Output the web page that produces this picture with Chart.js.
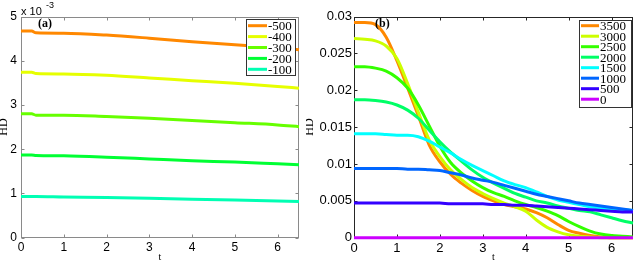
<!DOCTYPE html>
<html>
<head>
<meta charset="utf-8">
<script src="https://cdn.jsdelivr.net/npm/chart.js@4.4.0/dist/chart.umd.min.js"></script>
<style>
  body { margin: 0; background: #fff; }
  #wrap { position: relative; width: 634px; height: 262px; }
  canvas { position: absolute; top: 0; }
</style>
</head>
<body>
<div id="wrap">
  <canvas id="chartA" width="306" height="262" style="left:0px"></canvas>
  <canvas id="chartB" width="328" height="262" style="left:306px"></canvas>
</div>
<script>
// ----- (a) HD, values in units of 10^-3 -----
var tA = [0, 0.25, 0.35, 1, 2, 3, 4, 5, 6, 6.5];
var namesA = ['-500', '-400', '-300', '-200', '-100'];
var hdA_500 = [4.67, 4.67, 4.63, 4.62, 4.58, 4.51, 4.43, 4.36, 4.29, 4.25];
var hdA_400 = [3.74, 3.74, 3.71, 3.70, 3.67, 3.61, 3.55, 3.49, 3.42, 3.38];
var hdA_300 = [2.80, 2.80, 2.77, 2.77, 2.74, 2.70, 2.65, 2.60, 2.55, 2.51];
var hdA_200 = [1.87, 1.87, 1.86, 1.85, 1.82, 1.78, 1.74, 1.71, 1.67, 1.65];
var hdA_100 = [0.93, 0.93, 0.93, 0.92, 0.91, 0.89, 0.87, 0.85, 0.83, 0.82];
var colorsA = ['#ff8800', '#e6ff00', '#66ff00', '#00ff33', '#00ffb3'];
var ticksYA = [0, 1, 2, 3, 4, 5];

// ----- (b) HD -----
var tB = [0, 0.25, 0.5, 0.75, 1, 1.25, 1.5, 1.75, 2, 2.25, 2.5, 2.75, 3, 3.25, 3.5,
          3.75, 4, 4.25, 4.5, 4.75, 5, 5.25, 5.5, 5.75, 6, 6.25, 6.5];
var namesB = ['3500', '3000', '2500', '2000', '1500', '1000', '500', '0'];
var hdB3500 = [0.0292, 0.0292, 0.0289, 0.0272, 0.0240, 0.0203, 0.0165, 0.0126, 0.0103, 0.0086, 0.0074, 0.0064, 0.0056, 0.0050,
               0.0045, 0.0042, 0.0039, 0.0034, 0.0027, 0.0018, 0.0010, 0.0006, 0.0003, 0.0001, 0, 0, 0];
var hdB3000 = [0.0270, 0.0269, 0.0267, 0.0260, 0.0243, 0.0209, 0.0170, 0.0133, 0.0110, 0.0092, 0.0079, 0.0068, 0.0060, 0.0053,
               0.0047, 0.0042, 0.0036, 0.0024, 0.0014, 0.0008, 0.0004, 0.0002, 0.0001, 0, 0, 0, 0];
var hdB2500 = [0.0232, 0.0232, 0.0230, 0.0226, 0.0217, 0.0203, 0.0180, 0.0152, 0.0124, 0.0102, 0.0088, 0.0077, 0.0068, 0.0061,
               0.0056, 0.0050, 0.0045, 0.0041, 0.0036, 0.0030, 0.0022, 0.0015, 0.0009, 0.0005, 0.0003, 0.0002, 0.0001];
var hdB2000 = [0.0187, 0.0187, 0.0186, 0.0184, 0.0180, 0.0173, 0.0162, 0.0146, 0.0130, 0.0116, 0.0104, 0.0092, 0.0082, 0.0074,
               0.0067, 0.0060, 0.0055, 0.0050, 0.0047, 0.0043, 0.0040, 0.0037, 0.0035, 0.0031, 0.0027, 0.0023, 0.0020];
var hdB1500 = [0.0141, 0.0141, 0.0141, 0.0140, 0.0139, 0.0139, 0.0137, 0.0131, 0.0123, 0.0115, 0.0106, 0.0098, 0.0091, 0.0084,
               0.0077, 0.0072, 0.0068, 0.0062, 0.0056, 0.0051, 0.0048, 0.0045, 0.0042, 0.0040, 0.0039, 0.0038, 0.0037];
var hdB1000 = [0.0094, 0.0094, 0.0094, 0.0094, 0.0094, 0.0093, 0.0093, 0.0092, 0.0091, 0.0088, 0.0085, 0.0081, 0.0078, 0.0075,
               0.0071, 0.0067, 0.0063, 0.0059, 0.0056, 0.0053, 0.0050, 0.0047, 0.0045, 0.0043, 0.0041, 0.0039, 0.0037];
var hdB500  = [0.0047, 0.0047, 0.0047, 0.0047, 0.0047, 0.0047, 0.0047, 0.0047, 0.0047, 0.0046, 0.0046, 0.0046, 0.0046, 0.0045,
               0.0045, 0.0044, 0.0044, 0.0043, 0.0042, 0.0041, 0.0040, 0.0039, 0.0038, 0.0037, 0.0036, 0.0035, 0.0035];
var hdB0    = [0, 0, 0, 0, 0, 0, 0, 0, 0, 0, 0, 0, 0, 0, 0, 0, 0, 0, 0, 0, 0, 0, 0, 0, 0, 0, 0];
var colorsB = ['#ff8800', '#ccff00', '#33ff00', '#00ff66', '#00ffff', '#0066ff', '#3300ff', '#cc00ff'];
var ticksYB = [0, 0.005, 0.01, 0.015, 0.02, 0.025, 0.03];

var ticksX = [0, 1, 2, 3, 4, 5, 6];

// turn x / y lists into {x, y} points
function points(xs, ys) {
    return xs.map(function(x, i) { return { x: x, y: ys[i] }; });
}

function makeSets(xs, series, names, colors) {
    return series.map(function(ys, i) {
        return {
            label: names[i],
            data: points(xs, ys),
            borderColor: colors[i],
            backgroundColor: colors[i],
            borderWidth: 3,
            pointRadius: 0,
            cubicInterpolationMode: 'monotone',
            clip: false,
            order: series.length - i   // later series on top
        };
    });
}

// matlab style box, inward ticks, legend and labels
var matlabBox = {
    id: 'matlabBox',
    beforeDatasetsDraw: function(chart, args, o) {
        var ctx = chart.ctx, a = chart.chartArea;
        var sx = chart.scales.x, sy = chart.scales.y;
        var L = Math.round(a.left) + 0.5, R = Math.round(a.right) - 0.5;
        var T = Math.round(a.top) + 0.5, B = Math.round(a.bottom) - 0.5;
        ctx.save();
        ctx.strokeStyle = o.color;
        ctx.lineWidth = 1;
        ctx.strokeRect(L, T, R - L, B - T);
        ctx.beginPath();
        sx.ticks.forEach(function(t) {
            var px = Math.round(sx.getPixelForValue(t.value)) + 0.5;
            ctx.moveTo(px, B); ctx.lineTo(px, B - 3);
            ctx.moveTo(px, T); ctx.lineTo(px, T + 3);
        });
        sy.ticks.forEach(function(t) {
            var py = Math.round(sy.getPixelForValue(t.value)) + 0.5;
            ctx.moveTo(L, py); ctx.lineTo(L + 3, py);
            ctx.moveTo(R, py); ctx.lineTo(R - 3, py);
        });
        ctx.stroke();
        ctx.restore();
    },
    afterDatasetsDraw: function(chart, args, o) {
        var ctx = chart.ctx, lg = o.legend;
        ctx.save();
        // legend
        ctx.fillStyle = '#fff';
        ctx.fillRect(lg.x, lg.y, lg.w, lg.h);
        ctx.strokeStyle = '#333';
        ctx.lineWidth = 1;
        ctx.strokeRect(lg.x + 0.5, lg.y + 0.5, lg.w, lg.h);
        ctx.font = lg.font;
        ctx.textBaseline = 'middle';
        chart.data.datasets.forEach(function(ds, i) {
            var y = lg.y + lg.first + i * lg.row;
            ctx.strokeStyle = ds.borderColor;
            ctx.lineWidth = 3;
            ctx.beginPath();
            ctx.moveTo(lg.x + 2, y);
            ctx.lineTo(lg.x + 2 + lg.line, y);
            ctx.stroke();
            ctx.fillStyle = '#000';
            ctx.fillText(ds.label, lg.x + 3 + lg.line, y + 1);
        });
        // panel tag
        ctx.font = 'bold 12px "Liberation Serif"';
        ctx.fillStyle = '#000';
        ctx.fillText(o.tag, o.tagX, 23.5);
        // exponent
        if (o.exponent) {
            ctx.font = '11px "Liberation Sans"';
            ctx.textBaseline = 'alphabetic';
            ctx.fillText('x 10', 21, 15);
            ctx.font = '9px "Liberation Sans"';
            ctx.fillText(o.exponent, 46, 8);
        }
        ctx.restore();
    }
};

function makeChart(id, sets, ticksY, yMax, cfg) {
    return new Chart(document.getElementById(id), {
        type: 'line',
        data: { datasets: sets },
        plugins: [matlabBox],
        options: {
            responsive: false,
            animation: false,
            devicePixelRatio: 1,
            layout: { padding: { top: 16.5, right: cfg.padRight, left: 0, bottom: 0 } },
            plugins: {
                legend: { display: false },
                tooltip: { enabled: false },
                matlabBox: cfg.box
            },
            scales: {
                x: {
                    type: 'linear',
                    min: 0, max: 6.5,
                    afterBuildTicks: function(s) { s.ticks = ticksX.map(function(v) { return { value: v }; }); },
                    afterFit: function(s) { s.height = 24.3; },
                    grid: { display: false, drawTicks: false },
                    border: { display: false },
                    ticks: { padding: 3, color: '#000', font: { family: 'Liberation Sans', size: cfg.fontSize }, maxRotation: 0, autoSkip: false },
                    title: { display: true, text: 't', color: '#000', font: { family: 'Liberation Serif', size: 10 }, padding: { top: 0, bottom: -1 } }
                },
                y: {
                    min: 0, max: yMax,
                    afterBuildTicks: function(s) { s.ticks = ticksY.map(function(v) { return { value: v }; }); },
                    afterFit: function(s) { s.width = cfg.axisW; },
                    grid: { display: false, drawTicks: false },
                    border: { display: false },
                    ticks: {
                        padding: cfg.tickPad, color: '#000',
                        font: { family: 'Liberation Sans', size: cfg.fontSize },
                        callback: function(v) { return String(+v.toFixed(3)); }
                    },
                    title: { display: true, text: 'HD', color: '#000', font: { family: 'Liberation Serif', size: 12 }, padding: { top: -3, bottom: 0 } }
                }
            }
        }
    });
}

// (a)
makeChart('chartA',
    makeSets(tA, [hdA_500, hdA_400, hdA_300, hdA_200, hdA_100], namesA, colorsA),
    ticksYA, 5,
    {
        padRight: 7, axisW: 21, fontSize: 12, tickPad: 4,
        box: {
            color: '#8a8a8a', tag: '(a)', tagX: 38, exponent: '-3',
            legend: { x: 246, y: 19, w: 49, h: 56, first: 6.7, row: 10.9, line: 19, font: '13px "Liberation Serif"' }
        }
    });

// (b)
makeChart('chartB',
    makeSets(tB, [hdB3500, hdB3000, hdB2500, hdB2000, hdB1500, hdB1000, hdB500, hdB0], namesB, colorsB),
    ticksYB, 0.03,
    {
        padRight: 1, axisW: 48, fontSize: 13, tickPad: 2,
        box: {
            color: '#262626', tag: '(b)', tagX: 69, exponent: null,
            legend: { x: 273, y: 20, w: 52, h: 87, first: 5.7, row: 10.5, line: 18, font: '13px "Liberation Serif"' }
        }
    });
</script>
</body>
</html>
